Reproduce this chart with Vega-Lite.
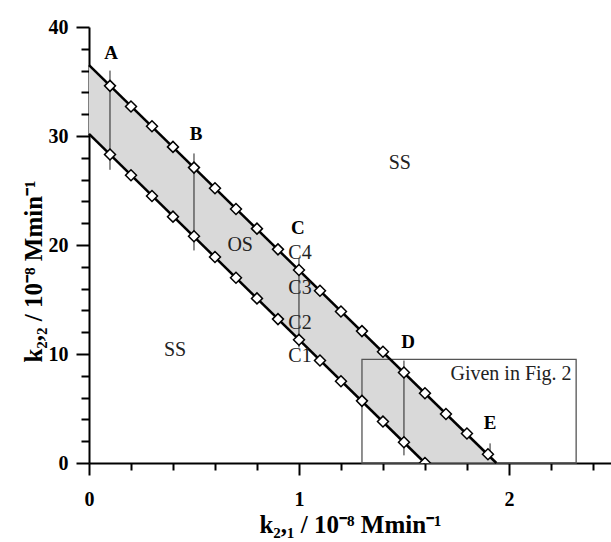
{
  "$schema": "https://vega.github.io/schema/vega-lite/v6.json",
  "width": 522,
  "height": 436,
  "autosize": "none",
  "padding": {"left": 89, "top": 27, "right": 0, "bottom": 79},
  "config": {
    "font": "Liberation Serif",
    "view": {"stroke": null},
    "axis": {
      "grid": false,
      "domainColor": "black",
      "domainWidth": 2,
      "tickColor": "black",
      "tickWidth": 2,
      "labelColor": "black",
      "labelFont": "Liberation Serif",
      "labelFontSize": 20,
      "labelFontWeight": "bold",
      "labelOverlap": false,
      "titleColor": "black",
      "titleFont": "Liberation Serif",
      "titleFontSize": 25,
      "titleFontWeight": "bold"
    }
  },
  "resolve": {"scale": {"x": "shared", "y": "shared"}, "axis": {"x": "independent", "y": "independent"}},
  "datasets": {
    "band": [
      {"x": 0, "hi": 36.5, "lo": 30.2},
      {"x": 1.6, "hi": 6.4, "lo": 0},
      {"x": 1.94, "hi": 0, "lo": 0}
    ],
    "lines": [
      {"line": "upper", "x": 0, "y": 36.5},
      {"line": "upper", "x": 1.94, "y": 0},
      {"line": "lower", "x": 0, "y": 30.2},
      {"line": "lower", "x": 1.6, "y": 0}
    ],
    "pts": [
      {"x": 0.1, "y": 34.6}, {"x": 0.2, "y": 32.7}, {"x": 0.3, "y": 30.9}, {"x": 0.4, "y": 29.0},
      {"x": 0.5, "y": 27.1}, {"x": 0.6, "y": 25.2}, {"x": 0.7, "y": 23.3}, {"x": 0.8, "y": 21.5},
      {"x": 0.9, "y": 19.6}, {"x": 1.0, "y": 17.7}, {"x": 1.1, "y": 15.8}, {"x": 1.2, "y": 13.9},
      {"x": 1.3, "y": 12.1}, {"x": 1.4, "y": 10.2}, {"x": 1.5, "y": 8.3}, {"x": 1.6, "y": 6.4},
      {"x": 1.7, "y": 4.5}, {"x": 1.8, "y": 2.7}, {"x": 1.9, "y": 0.8},
      {"x": 0.1, "y": 28.3}, {"x": 0.2, "y": 26.4}, {"x": 0.3, "y": 24.5}, {"x": 0.4, "y": 22.6},
      {"x": 0.5, "y": 20.8}, {"x": 0.6, "y": 18.9}, {"x": 0.7, "y": 17.0}, {"x": 0.8, "y": 15.1},
      {"x": 0.9, "y": 13.2}, {"x": 1.0, "y": 11.3}, {"x": 1.1, "y": 9.4}, {"x": 1.2, "y": 7.5},
      {"x": 1.3, "y": 5.7}, {"x": 1.4, "y": 3.8}, {"x": 1.5, "y": 1.9}, {"x": 1.6, "y": 0.0}
    ],
    "vlines": [
      {"x": 0.1, "y1": 26.9, "y2": 36.0},
      {"x": 0.5, "y1": 19.5, "y2": 28.4},
      {"x": 1.0, "y1": 10.6, "y2": 18.8},
      {"x": 1.5, "y1": 0.7, "y2": 9.4},
      {"x": 1.91, "y1": 0.5, "y2": 1.8}
    ],
    "box": [{"x1": 1.3, "x2": 2.32, "y1": 0, "y2": 9.5}],
    "boldLabels": [
      {"x": 0.105, "y": 37.6, "t": "A"},
      {"x": 0.51, "y": 30.2, "t": "B"},
      {"x": 0.995, "y": 21.6, "t": "C"},
      {"x": 1.52, "y": 11.1, "t": "D"},
      {"x": 1.91, "y": 3.7, "t": "E"}
    ],
    "plainLabels": [
      {"x": 1.005, "y": 19.3, "t": "C4"},
      {"x": 1.005, "y": 16.1, "t": "C3"},
      {"x": 1.005, "y": 12.8, "t": "C2"},
      {"x": 1.005, "y": 9.8, "t": "C1"},
      {"x": 0.72, "y": 20.0, "t": "OS"},
      {"x": 1.48, "y": 27.5, "t": "SS"},
      {"x": 0.41, "y": 10.4, "t": "SS"},
      {"x": 2.01, "y": 8.2, "t": "Given in Fig. 2"}
    ]
  },
  "layer": [
    {
      "data": {"name": "band"},
      "mark": {"type": "area", "color": "#d9d9d9", "opacity": 1},
      "encoding": {
        "x": {
          "field": "x", "type": "quantitative",
          "scale": {"domain": [0, 2.486], "nice": false, "zero": false},
          "axis": {
            "orient": "bottom",
            "title": "k₂,₁ / 10⁻⁸ Mmin⁻¹",
            "values": [0, 1, 2],
            "format": "d",
            "tickSize": 12,
            "labelPadding": 14,
            "labelFlush": false,
            "titlePadding": 3
          }
        },
        "y": {
          "field": "hi", "type": "quantitative",
          "scale": {"domain": [0, 40], "nice": false},
          "axis": {
            "orient": "left",
            "title": "k₂,₂ / 10⁻⁸ Mmin⁻¹",
            "values": [0, 10, 20, 30, 40],
            "format": "d",
            "tickSize": 13,
            "labelPadding": 8,
            "labelFlush": false,
            "titlePadding": 2,
            "titleY": 244
          }
        },
        "y2": {"field": "lo"}
      }
    },
    {
      "data": {"name": "box"},
      "mark": {"type": "rect", "fill": null, "fillOpacity": 0, "stroke": "#555555", "strokeWidth": 1.3},
      "encoding": {
        "x": {"field": "x1", "type": "quantitative", "axis": null},
        "x2": {"field": "x2"},
        "y": {"field": "y1", "type": "quantitative", "axis": null},
        "y2": {"field": "y2"}
      }
    },
    {
      "data": {"name": "vlines"},
      "mark": {"type": "rule", "color": "#222222", "strokeWidth": 1},
      "encoding": {
        "x": {"field": "x", "type": "quantitative", "axis": null},
        "y": {"field": "y1", "type": "quantitative", "axis": null},
        "y2": {"field": "y2"}
      }
    },
    {
      "data": {"name": "lines"},
      "mark": {"type": "line", "color": "black", "strokeWidth": 2.5},
      "encoding": {
        "x": {
          "field": "x", "type": "quantitative",
          "axis": {
            "orient": "bottom",
            "title": null,
            "values": [0.2, 0.4, 0.6, 0.8, 1.2, 1.4, 1.6, 1.8, 2.2, 2.4],
            "labels": false,
            "domain": false,
            "tickSize": 7
          }
        },
        "y": {
          "field": "y", "type": "quantitative",
          "axis": {
            "orient": "left",
            "title": null,
            "values": [2, 4, 6, 8, 12, 14, 16, 18, 22, 24, 26, 28, 32, 34, 36, 38],
            "labels": false,
            "domain": false,
            "tickSize": 8
          }
        },
        "detail": {"field": "line"}
      }
    },
    {
      "data": {"name": "pts"},
      "mark": {"type": "point", "shape": "diamond", "filled": true, "fill": "white", "stroke": "black", "strokeWidth": 1.5, "size": 120, "opacity": 1, "clip": true},
      "encoding": {
        "x": {"field": "x", "type": "quantitative", "axis": null},
        "y": {"field": "y", "type": "quantitative", "axis": null}
      }
    },
    {
      "data": {"name": "boldLabels"},
      "mark": {"type": "text", "font": "Liberation Serif", "fontSize": 19, "fontWeight": "bold", "color": "black", "baseline": "middle", "align": "center"},
      "encoding": {
        "x": {"field": "x", "type": "quantitative", "axis": null},
        "y": {"field": "y", "type": "quantitative", "axis": null},
        "text": {"field": "t"}
      }
    },
    {
      "data": {"name": "plainLabels"},
      "mark": {"type": "text", "font": "Liberation Serif", "fontSize": 20, "color": "#222222", "baseline": "middle", "align": "center"},
      "encoding": {
        "x": {"field": "x", "type": "quantitative", "axis": null},
        "y": {"field": "y", "type": "quantitative", "axis": null},
        "text": {"field": "t"}
      }
    }
  ]
}
